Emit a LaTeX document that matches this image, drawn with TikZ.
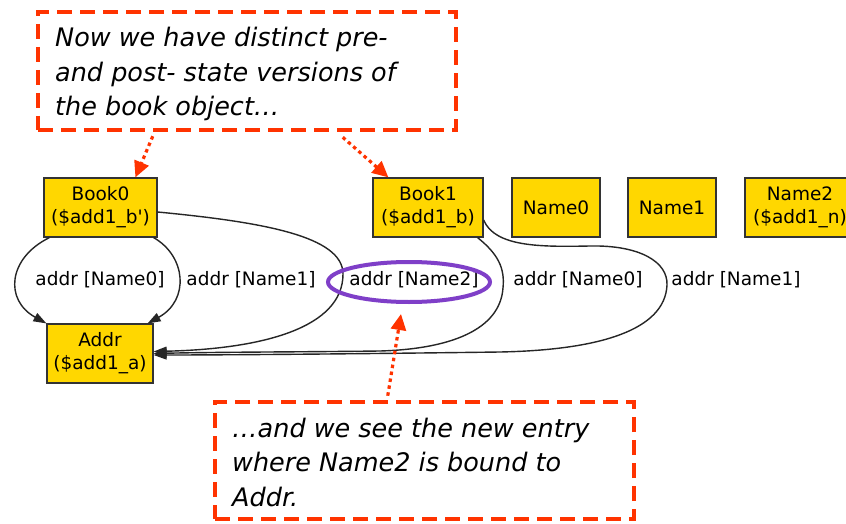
\documentclass[tikz,border=0pt]{standalone}
\usepackage{fontspec}
\setmainfont{DejaVu Sans}
\usetikzlibrary{arrows.meta,calc,shapes.geometric}
\definecolor{boxfill}{HTML}{FFD700}
\definecolor{noteRed}{HTML}{FF3300}
\definecolor{ringPurple}{HTML}{7F3FC8}

\begin{document}
\begin{tikzpicture}[x=1pt,y=-1pt,
  obj/.style={draw=black!80, fill=boxfill, line width=1.2pt, minimum height=59pt,
    inner sep=0pt, align=center, font=\fontsize{18.5}{23}\selectfont},
  elabel/.style={font=\fontsize{18.5}{23}\selectfont, inner sep=0pt},
  rel/.style={line width=1.4pt, black!85, -{Triangle[length=13pt,width=9pt]}},
  note/.style={draw=noteRed, line width=4.5pt, dash pattern=on 15pt off 8pt},
  notetext/.style={font=\itshape\fontsize{25.5}{34.5}\selectfont, align=left,
    inner sep=0pt, anchor=base west},
  pointer/.style={noteRed, line width=3.2pt, dash pattern=on 3.5pt off 3.5pt,
    -{Triangle[length=16pt,width=15pt]}},
]
\useasboundingbox (0,0) rectangle (846,524);
\clip (0,0) rectangle (846,524);
\fill[white] (0,0) rectangle (846,524);

% atoms
\node[obj, minimum width=113pt] (b0) at (100.5,207.5) {Book0\\(\$add1\_b\textquotesingle)};
\node[obj, minimum width=106pt] (a)  at (100,353.5) {Addr\\(\$add1\_a)};
\node[obj, minimum width=110pt] (b1) at (428,207.5) {Book1\\(\$add1\_b)};
\node[obj, minimum width=88pt]  (n0) at (556,207.5) {Name0};
\node[obj, minimum width=88pt]  (n1) at (672,207.5) {Name1};
\node[obj, minimum width=110pt] (n2) at (800,207.5) {Name2\\(\$add1\_n)};

% addr relation
\draw[rel] ([xshift=6pt]b0.south west) .. controls (8,258) and (4,300) .. (a.north west);
\draw[rel] ([xshift=-4pt]b0.south east) .. controls (186,256) and (190,300) .. ([xshift=-6pt]a.north east);
\draw[rel] ([yshift=-4.5pt]b0.east) .. controls (262,222) and (343,236) .. (343,274)
  .. controls (343,328) and (262,349) .. ([yshift=2pt]a.east);
\draw[rel] ([xshift=-6pt]b1.south east) .. controls (498,254) and (505,268) .. (503,288)
  .. controls (500,330) and (450,349) .. (380,351)
  .. controls (300,352) and (220,352) .. (a.east);
\draw[rel] ([yshift=-12.5pt]b1.east) .. controls (495,247) and (540,247) .. (590,246)
  .. controls (640,245) and (668,262) .. (667,285)
  .. controls (665,330) and (600,350) .. (500,352)
  .. controls (350,354) and (220,355) .. ([yshift=-1.5pt]a.east);

\node[elabel] (l0) at (100,280) {addr [Name0]};
\node[elabel] (l1) at (251,280) {addr [Name1]};
\node[elabel] (l2) at (414,280) {addr [Name2]};
\node[elabel] (l3) at (578,280) {addr [Name0]};
\node[elabel] (l4) at (736,280) {addr [Name1]};

% highlight ring
\node[draw=ringPurple, line width=4pt, ellipse, minimum width=162pt, minimum height=40pt] (ring) at (409,282) {};

% callouts (text anchored on the baseline of its last line)
\node[note, minimum width=418pt, minimum height=118pt] (c1) at (247,71) {};
\node[notetext] (t1) at (55,116) {Now we have distinct pre-\\and post- state versions of\\the book object…};
\node[note, minimum width=419pt, minimum height=117pt] (c2) at (424.5,460.5) {};
\node[notetext] (t2) at (232,506) {…and we see the new entry\\where Name2 is bound to\\Addr.};

\draw[pointer] ($(c1.south west)+(117,4)$) -- ([xshift=92pt]b0.north west);
\draw[pointer] ($(c1.south west)+(307,5)$) -- ([xshift=16pt]b1.north west);
\draw[pointer] ($(c2.north west)+(175,-4)$) -- ($(ring.south)+(-8,10)$);
\end{tikzpicture}
\end{document}
